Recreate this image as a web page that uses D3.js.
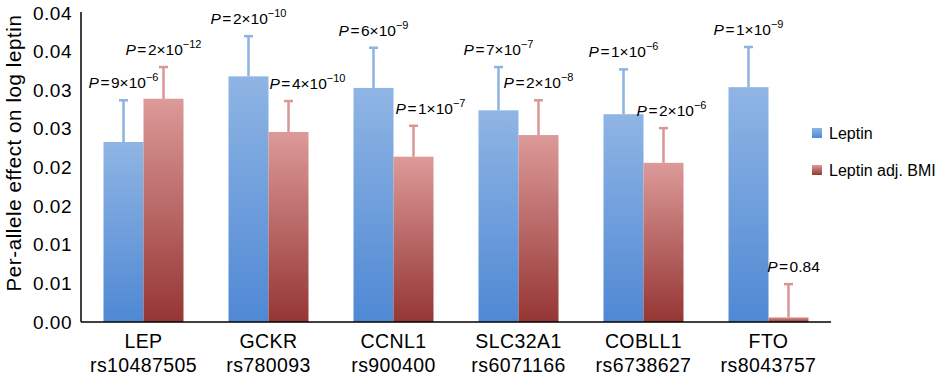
<!DOCTYPE html>
<html><head><meta charset="utf-8">
<script src="https://cdn.jsdelivr.net/npm/d3@7"></script>
<style>
body{margin:0;background:#fff;}
svg{display:block;font-family:"Liberation Sans",Arial,Helvetica,sans-serif;}
</style></head>
<body>
<svg id="chart" width="946" height="376"></svg>
<script>
const genes = ["LEP","GCKR","CCNL1","SLC32A1","COBLL1","FTO"];
const snps = ["rs10487505","rs780093","rs900400","rs6071166","rs6738627","rs8043757"];
const leptin = [0.0233, 0.0318, 0.0303, 0.0274, 0.0269, 0.0304];
const leptinErr = [0.0054, 0.0052, 0.0052, 0.0056, 0.0058, 0.0052];
const adjBMI = [0.0289, 0.0246, 0.0214, 0.0242, 0.0206, 0.0006];
const adjErr = [0.0041, 0.0040, 0.0040, 0.0045, 0.0045, 0.0043];
const leptinP = [["9","−6"],["2","−10"],["6","−9"],["7","−7"],["1","−6"],["1","−9"]];
const adjP = [["2","−12"],["4","−10"],["1","−7"],["2","−8"],["2","−6"],["0.84",null]];
const yTicks = [0,0.005,0.01,0.015,0.02,0.025,0.03,0.035,0.04];
const yTickLabels = ["0.00","0.01","0.01","0.02","0.02","0.03","0.03","0.04","0.04"];
const seriesNames = ["Leptin","Leptin adj. BMI"];
// label horizontal nudges (layout only)
const adjLabelDx = [0, 19, 17, 0, 8, 5];

(function(){
const svg = d3.select("#chart");
const mL = 81, mR = 831, mT = 13, mB = 322;
const x = d3.scaleBand().domain(genes).range([mL, mR]).paddingInner(0.36).paddingOuter(0.18);
const sub = d3.scaleBand().domain([0,1]).range([0, x.bandwidth()]);
const y = d3.scaleLinear().domain([0,0.04]).range([mB, mT]);

const defs = svg.append("defs");
function grad(id, c1, c2){
  const g = defs.append("linearGradient").attr("id",id).attr("x1",0).attr("y1",0).attr("x2",0).attr("y2",1);
  g.append("stop").attr("offset","0%").attr("stop-color",c1);
  g.append("stop").attr("offset","100%").attr("stop-color",c2);
}
grad("gBlue","#8fb5e4","#4f88d4");
grad("gRed","#dc9a98","#953634");
const fills = ["url(#gBlue)","url(#gRed)"];
const errColors = ["#8db3e2","#d99694"];

const series = [
  {vals: leptin, err: leptinErr, p: leptinP, dx: genes.map(()=>0)},
  {vals: adjBMI, err: adjErr, p: adjP, dx: adjLabelDx}
];

series.forEach((s, si) => {
  const gs = svg.append("g");
  genes.forEach((g, i) => {
    const bx = x(g) + sub(si);
    const bw = sub.bandwidth();
    const v = s.vals[i], e = s.err[i];
    const cx = bx + bw/2;
    gs.append("line").attr("x1",cx).attr("x2",cx).attr("y1",y(v)).attr("y2",y(v+e))
      .attr("stroke",errColors[si]).attr("stroke-width",2.5);
    gs.append("line").attr("x1",cx-4.5).attr("x2",cx+4.5).attr("y1",y(v+e)).attr("y2",y(v+e))
      .attr("stroke",errColors[si]).attr("stroke-width",2.5);
    gs.append("rect").attr("x",bx).attr("y",y(v)).attr("width",bw).attr("height",y(0)-y(v))
      .attr("fill",fills[si]);
    const t = gs.append("text").attr("x",cx + s.dx[i]).attr("y",y(v+e)-12)
      .attr("text-anchor","middle").attr("font-size",15.5).attr("fill","#000");
    t.append("tspan").attr("font-style","italic").text("P");
    const pv = s.p[i];
    t.append("tspan").attr("dx",1.5).text("=");
    if (pv[1] === null) {
      t.append("tspan").attr("dx",1.5).text(pv[0]);
    } else {
      t.append("tspan").attr("dx",1.5).text(pv[0] + "×10");
      t.append("tspan").attr("dy",-7).attr("font-size",11).text(pv[1]);
    }
  });
});

svg.append("line").attr("x1",mL).attr("x2",mL).attr("y1",12).attr("y2",mB)
  .attr("stroke","#000").attr("stroke-width",1.5);
svg.append("line").attr("x1",mL).attr("x2",mR).attr("y1",mB).attr("y2",mB)
  .attr("stroke","#000").attr("stroke-width",1.5);

svg.append("g").selectAll("text").data(yTicks).join("text")
  .attr("x",72).attr("y",d=>y(d)+6.5).attr("text-anchor","end")
  .attr("font-size",19).attr("letter-spacing",0.5).attr("fill","#000")
  .text((d,i)=>yTickLabels[i]);

svg.append("text").attr("transform","translate(21,153) rotate(-90)")
  .attr("text-anchor","middle").attr("font-size",20.5).attr("letter-spacing",0.6).attr("fill","#000")
  .text("Per-allele effect on log leptin");

const xl = svg.append("g");
genes.forEach((g,i)=>{
  const cx = x(g) + x.bandwidth()/2;
  xl.append("text").attr("x",cx).attr("y",348).attr("text-anchor","middle")
    .attr("font-size",19.5).attr("letter-spacing",0.4).attr("fill","#000").text(g);
  xl.append("text").attr("x",cx).attr("y",372).attr("text-anchor","middle")
    .attr("font-size",19.5).attr("letter-spacing",0.4).attr("fill","#000").text(snps[i]);
});

const lg = svg.append("g");
seriesNames.forEach((n,i)=>{
  const ly = 133 + i*37;
  lg.append("rect").attr("x",812).attr("y",ly-5).attr("width",10).attr("height",10).attr("fill",fills[i]);
  lg.append("text").attr("x",829).attr("y",ly+5.5).attr("font-size",16).attr("fill","#000").text(n);
});
})();
</script>
</body></html>
